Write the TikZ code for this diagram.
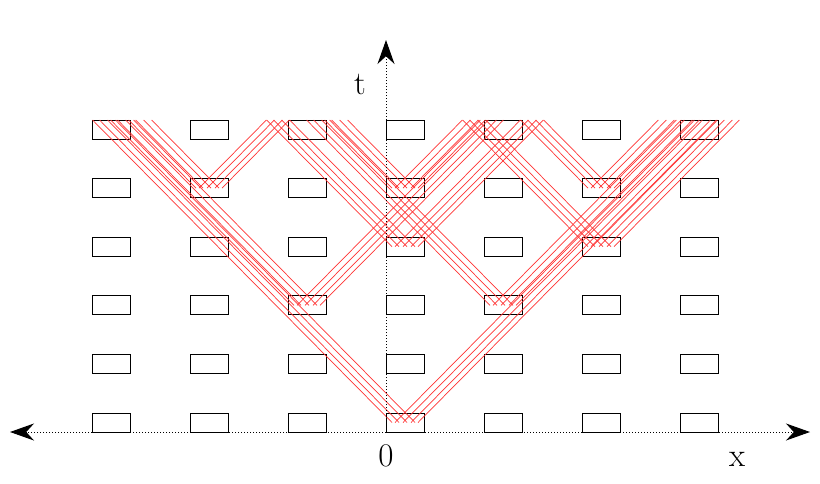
\documentclass[tikz,border=0pt]{standalone}
\usetikzlibrary{arrows.meta}
\begin{document}
\begin{tikzpicture}[x=1pt,y=-1pt,
  cell/.style={draw=black,line width=1pt,minimum width=38pt,minimum height=19pt,inner sep=0pt},
  ray/.style={draw=red!80!white,line width=0.7pt},
  axis/.style={dotted,line width=1pt,-{Stealth[length=24pt,width=17pt]}},
  lbl/.style={font=\fontsize{33}{35}\selectfont}]
\useasboundingbox (0,0) rectangle (820,483);
\fill[white] (0,0) rectangle (820,483);
% boxes
\foreach \c in {0,...,6}{
  \foreach \r in {0,...,5}{
    \node[cell] (b\c\r) at ({111+98*\c},{129.5+58.6*\r}) {};
  }
}
% rays: events (column,row)
\foreach \c/\r in {3/5,2/3,4/3,1/1,3/1,5/1,3/2,5/2}{
  \pgfmathsetmacro{\cx}{111+98*\c}
  \pgfmathsetmacro{\cy}{129.5+58.6*\r}
  \pgfmathsetmacro{\d}{0.99*(\cy-120)}
  \foreach \o in {-13,-6,2,10}{
    \draw[ray] ({\cx+\o},\cy) -- ({\cx+\o-\d},120);
    \draw[ray] ({\cx-\o},\cy) -- ({\cx-\o+\d},120);
  }
}
% axes
\coordinate (xl) at (10,432);
\coordinate (xr) at (810,432);
\coordinate (o) at (386,432);
\coordinate (tt) at (386,40);
\draw[axis] (o) -- (xr);
\draw[axis] (o) -- (xl);
\draw[axis] (o) -- (tt);
\node[lbl] (lt) at (360,84) {t};
\node[lbl] (l0) at (386,456) {0};
\node[lbl] (lx) at (737,459) {x};
\end{tikzpicture}
\end{document}
